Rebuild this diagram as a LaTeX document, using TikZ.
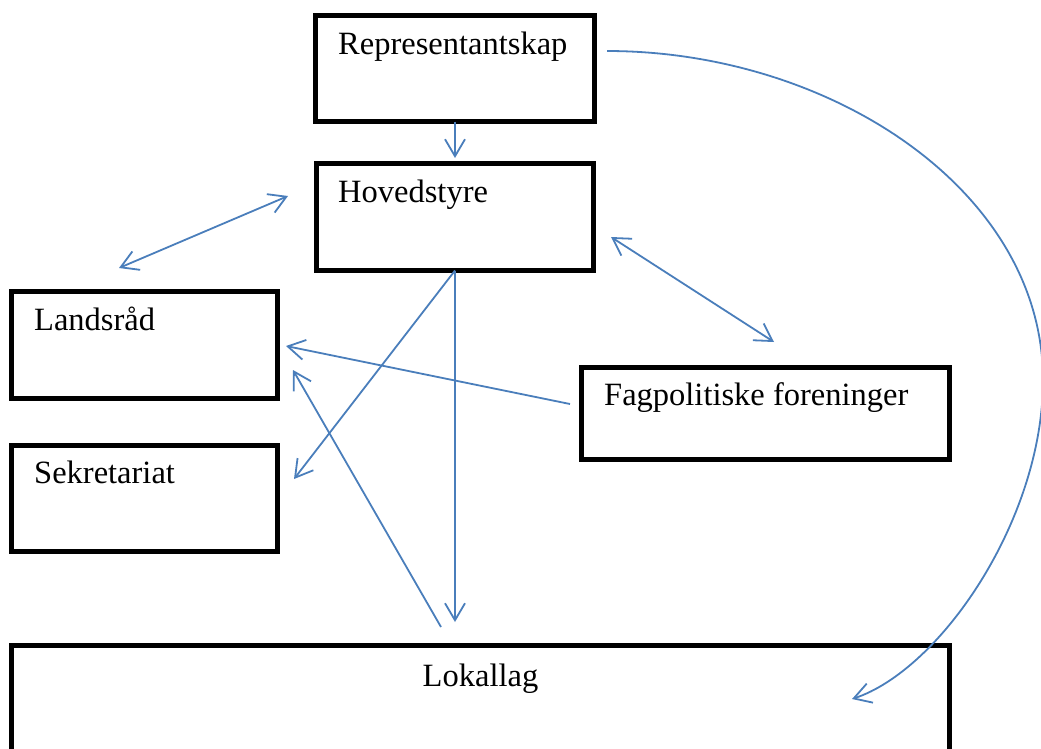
\documentclass[tikz,border=0pt]{standalone}
\usepackage{fontspec}
\setmainfont{Liberation Serif}
\usetikzlibrary{arrows.meta, calc, positioning}
\definecolor{orgblue}{RGB}{74,126,187}

\begin{document}
\begin{tikzpicture}[x=1pt, y=-1pt, >={Straight Barb[length=17pt, width=20pt]}]
        \useasboundingbox (0,0) rectangle (1041,748);

        \tikzstyle{b} = [draw, line width=5pt, inner sep=0pt, outer sep=0pt];
        \tikzstyle{t} = [anchor=base west, inner sep=0pt, font=\fontsize{32.5}{39}\selectfont];
        \tikzstyle{a} = [draw=orgblue, line width=1.8pt];

        % boxes
        \node [b, minimum width=279pt,   minimum height=106.5pt] (R) at (455, 68.25)    { };
        \node [b, minimum width=277pt,   minimum height=107pt]   (H) at (455, 217)      { };
        \node [b, minimum width=266pt,   minimum height=107pt]   (L) at (144.5, 345)    { };
        \node [b, minimum width=266pt,   minimum height=106pt]   (S) at (144.5, 498.5)  { };
        \node [b, minimum width=368pt,   minimum height=91.5pt]  (F) at (765.5, 413.25) { };
        \node [b, minimum width=938pt,   minimum height=134.5pt] (K) at (480.5, 712.75) { };

        % labels
        \node [t] (Rt) at ($(R.north west) + (22.5, 39)$)   {Representantskap};
        \node [t] (Ht) at ($(H.north west) + (21.5, 38.5)$) {Hovedstyre};
        \node [t] (Lt) at ($(L.north west) + (22.5, 38.5)$) {Landsråd};
        \node [t] (St) at ($(S.north west) + (22.5, 37.5)$) {Sekretariat};
        \node [t] (Ft) at ($(F.north west) + (22.5, 37.5)$) {Fagpolitiske foreninger};
        \node [t, anchor=base] (Kt) at ($(K.north) + (0, 40.5)$) {Lokallag};

        % free ends
        \coordinate (Hin)  at (455, 158);
        \coordinate (LH1)  at (119, 268);
        \coordinate (LH2)  at (288, 196);
        \coordinate (HF1)  at (611, 237);
        \coordinate (HF2)  at (774, 342);
        \coordinate (Fout) at (570, 404);
        \coordinate (Lin1) at (286, 346);
        \coordinate (Kout) at (441, 627);
        \coordinate (Lin2) at (293, 370);
        \coordinate (Sin)  at (294, 479);
        \coordinate (Kin)  at (455, 622);
        \coordinate (Rout) at (607, 51);
        \coordinate (Rc)   at (1043, 380);
        \coordinate (Kin2) at (852, 699);

        % connectors
        \draw [a, ->]  (R.south) -- (Hin);
        \draw [a, <->] (LH1) -- (LH2);
        \draw [a, <->] (HF1) -- (HF2);
        \draw [a, ->]  (Fout) -- (Lin1);
        \draw [a, ->]  (Kout) -- (Lin2);
        \draw [a, ->]  (H.south) -- (Sin);
        \draw [a, ->]  (H.south) -- (Kin);
        \draw [a, ->]  (Rout) .. controls (830, 51) and (1043, 190) .. (Rc)
                              .. controls (1043, 520) and (940, 670) .. (Kin2);
    \end{tikzpicture}
\end{document}
